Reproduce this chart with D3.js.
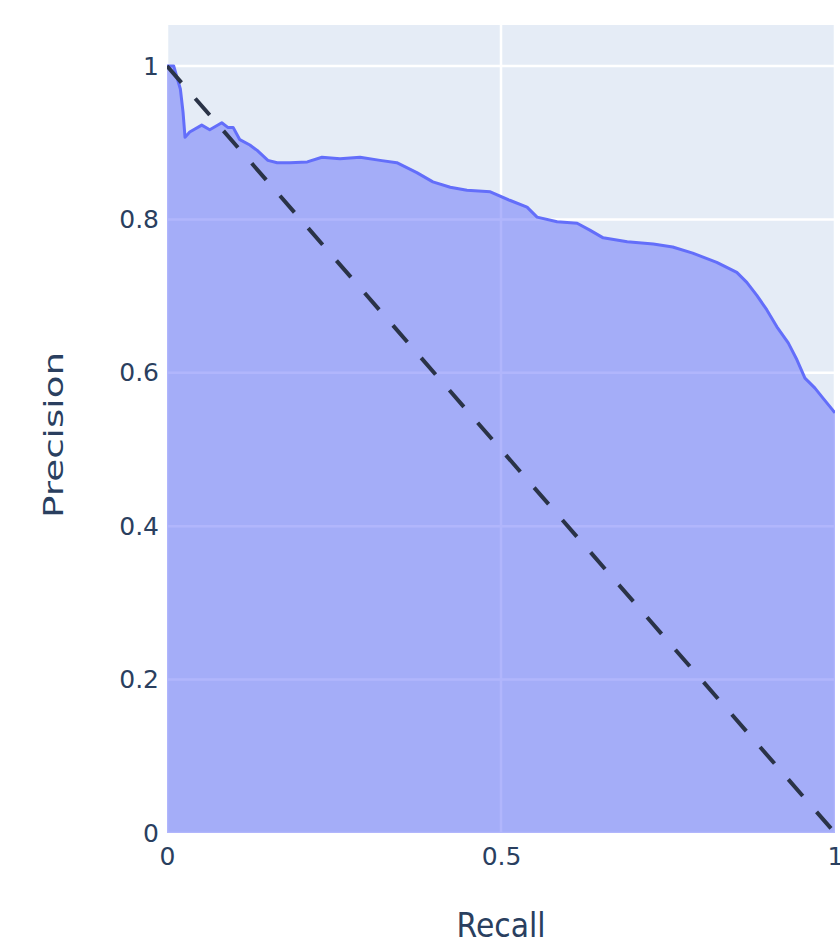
<!DOCTYPE html>
<html>
<head>
<meta charset="utf-8">
<script src="https://cdn.jsdelivr.net/npm/d3@7"></script>
<style>
  html, body { margin: 0; padding: 0; background: #ffffff; }
  svg { display: block; }
</style>
</head>
<body>
<svg id="chart" width="840" height="944"></svg>
<script>
// Precision-recall curve values (recall, precision)
const recall = [
  0.000, 0.010, 0.020, 0.024, 0.027, 0.034, 0.052, 0.064, 0.082, 0.091,
  0.099, 0.109, 0.124, 0.135, 0.151, 0.165, 0.184, 0.210, 0.232, 0.259,
  0.289, 0.319, 0.344, 0.374, 0.398, 0.424, 0.449, 0.484, 0.513, 0.539,
  0.554, 0.584, 0.614, 0.633, 0.653, 0.689, 0.728, 0.757, 0.787, 0.823,
  0.853, 0.868, 0.883, 0.898, 0.913, 0.930, 0.943, 0.955, 0.970, 0.982,
  0.997, 1.000
];
const precision = [
  1.000, 1.000, 0.970, 0.940, 0.907, 0.914, 0.923, 0.917, 0.926, 0.920,
  0.920, 0.904, 0.897, 0.890, 0.877, 0.874, 0.874, 0.875, 0.881, 0.879,
  0.881, 0.877, 0.874, 0.861, 0.849, 0.842, 0.838, 0.836, 0.825, 0.816,
  0.803, 0.797, 0.795, 0.786, 0.776, 0.771, 0.768, 0.764, 0.756, 0.744,
  0.731, 0.718, 0.701, 0.682, 0.660, 0.639, 0.617, 0.593, 0.580, 0.567,
  0.551, 0.548
];

// Chance-level reference diagonal
const diagonalX = [0, 1];
const diagonalY = [1, 0];

const xTickValues = [0, 0.5, 1];
const xTickLabels = ["0", "0.5", "1"];
const yTickValues = [0, 0.2, 0.4, 0.6, 0.8, 1];
const yTickLabels = ["0", "0.2", "0.4", "0.6", "0.8", "1"];

const xTitle = "Recall";
const yTitle = "Precision";

const svg = d3.select("#chart");
const plot = { left: 167, right: 835, top: 25, bottom: 833 };

const x = d3.scaleLinear().domain([0, 1]).range([plot.left, plot.right]);
const y = d3.scaleLinear().domain([0, 1.0535]).range([plot.bottom, plot.top]);

const textColor = "#2a3f5f";
const font = "'DejaVu Sans', Verdana, sans-serif";

// plot background
svg.append("rect")
  .attr("x", plot.left).attr("y", plot.top)
  .attr("width", plot.right - plot.left)
  .attr("height", plot.bottom - plot.top)
  .attr("fill", "#E5ECF6");

// grid lines
const grid = svg.append("g").attr("stroke", "#ffffff").attr("stroke-width", 2.5);
grid.selectAll("line.gx").data(xTickValues).join("line")
  .attr("x1", d => x(d)).attr("x2", d => x(d))
  .attr("y1", plot.top).attr("y2", plot.bottom);
grid.selectAll("line.gy").data(yTickValues).join("line")
  .attr("x1", plot.left).attr("x2", plot.right)
  .attr("y1", d => y(d)).attr("y2", d => y(d));

svg.append("clipPath").attr("id", "plotClip")
  .append("rect")
  .attr("x", plot.left).attr("y", plot.top)
  .attr("width", plot.right - plot.left)
  .attr("height", plot.bottom - plot.top);

const data = recall.map((r, i) => ({ r, p: precision[i] }));
const g = svg.append("g").attr("clip-path", "url(#plotClip)");

// filled area under the curve
g.append("path")
  .datum(data)
  .attr("fill", "rgba(99,110,250,0.5)")
  .attr("d", d3.area().x(d => x(d.r)).y0(y(0)).y1(d => y(d.p)));

// curve outline
g.append("path")
  .datum(data)
  .attr("fill", "none")
  .attr("stroke", "#636efa")
  .attr("stroke-width", 3)
  .attr("stroke-linejoin", "round")
  .attr("d", d3.line().x(d => x(d.r)).y(d => y(d.p)));

// dashed diagonal
g.append("path")
  .datum(diagonalX.map((v, i) => ({ r: v, p: diagonalY[i] })))
  .attr("fill", "none")
  .attr("stroke", "#2a3347")
  .attr("stroke-width", 4)
  .attr("stroke-dasharray", "22,21")
  .attr("d", d3.line().x(d => x(d.r)).y(d => y(d.p)));

// axes
const yAxis = d3.axisLeft(y)
  .tickValues(yTickValues)
  .tickFormat((d, i) => yTickLabels[i])
  .tickSize(0).tickPadding(8);
const yg = svg.append("g").attr("transform", `translate(${plot.left},0)`).call(yAxis);
yg.select(".domain").remove();
yg.selectAll("text")
  .attr("fill", textColor).attr("font-family", font).attr("font-size", 25);

const xAxis = d3.axisBottom(x)
  .tickValues(xTickValues)
  .tickFormat((d, i) => xTickLabels[i])
  .tickSize(0).tickPadding(14);
const xg = svg.append("g").attr("transform", `translate(0,${plot.bottom})`).call(xAxis);
xg.select(".domain").remove();
xg.selectAll("text")
  .attr("fill", textColor).attr("font-family", font).attr("font-size", 25);

// axis titles
svg.append("text")
  .attr("x", (plot.left + plot.right) / 2)
  .attr("y", 937)
  .attr("text-anchor", "middle")
  .attr("fill", textColor)
  .attr("font-family", font)
  .attr("font-size", 33)
  .attr("textLength", 89)
  .attr("lengthAdjust", "spacingAndGlyphs")
  .text(xTitle);

svg.append("text")
  .attr("transform", "translate(63,435) rotate(-90)")
  .attr("text-anchor", "middle")
  .attr("fill", textColor)
  .attr("font-family", font)
  .attr("font-size", 27)
  .attr("textLength", 166)
  .attr("lengthAdjust", "spacingAndGlyphs")
  .text(yTitle);
</script>
</body>
</html>
